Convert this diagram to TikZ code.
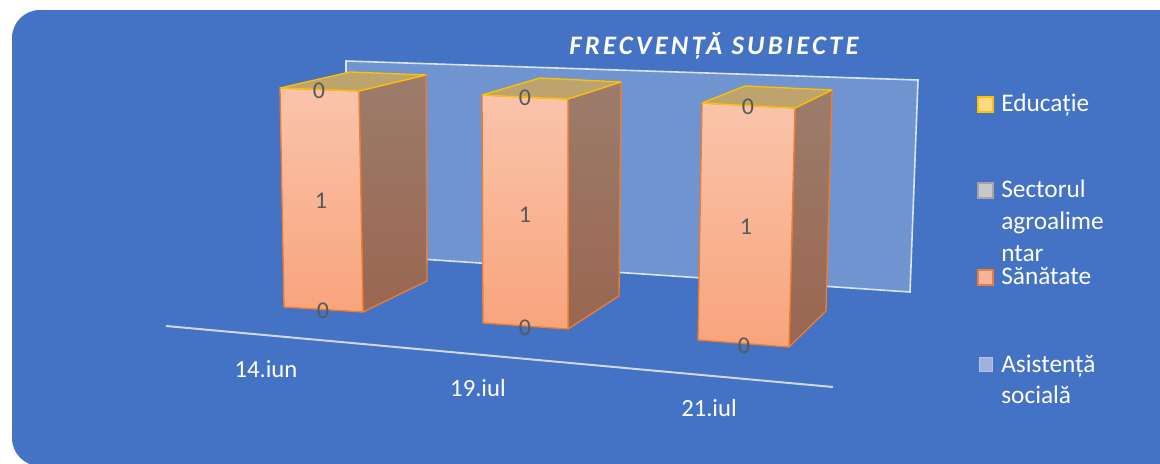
\documentclass[tikz,border=0pt]{standalone}
\usepackage{fontspec}
\setmainfont{Carlito}
\usetikzlibrary{calc}
\definecolor{bgblue}{HTML}{4472C4}
\definecolor{wallfill}{HTML}{7094D0}
\definecolor{wallline}{HTML}{DCE3F2}
\definecolor{barline}{HTML}{ED7D31}
\definecolor{fronttop}{HTML}{F9C4AB}
\definecolor{frontbot}{HTML}{F8A47C}
\definecolor{sidetop}{HTML}{9C7C6C}
\definecolor{sidebot}{HTML}{9A6650}
\definecolor{topfill}{HTML}{BDA46E}
\definecolor{gold}{HTML}{FFC000}
\definecolor{lblgray}{HTML}{595959}
\definecolor{floorline}{HTML}{D0D6E2}
\tikzset{
  lbl/.style={font=\fontsize{18}{20}\selectfont, text=lblgray, anchor=base, inner sep=0pt},
  axislbl/.style={font=\fontsize{18.5}{20}\selectfont, text=white, anchor=base, inner sep=0pt},
  leg/.style={font=\fontsize{19}{20}\selectfont, text=white, anchor=base west, inner sep=0pt},
  legbox/.style={line width=1.5pt},
  frontface/.style={top color=fronttop, bottom color=frontbot, draw=barline, line width=1pt, line join=round},
  sideface/.style={top color=sidetop, bottom color=sidebot, draw=barline, line width=1pt, line join=round},
  topface/.style={fill=topfill, draw=gold, line width=1pt, line join=round},
}
\begin{document}
\begin{tikzpicture}[x=0.75pt,y=-0.75pt]
\useasboundingbox (0,0) rectangle (1160,464);
\begin{scope}
\clip (0,0) rectangle (1160,464);
\fill[bgblue, rounded corners=21pt] (12,10) rectangle (1185,466);
\end{scope}
% back wall
\coordinate (w1) at (346,61);
\coordinate (w2) at (918,80);
\coordinate (w3) at (910,292);
\coordinate (w4) at (346,254);
\filldraw[fill=wallfill, draw=wallline, line width=1.2pt] (w1) -- (w2) -- (w3) -- (w4) -- cycle;
% floor line
\coordinate (f1) at (166,326);
\coordinate (f2) at (833,387);
\draw[floorline, line width=1.5pt] (f1) -- (f2);
% title
\node[font=\fontsize{20}{22}\selectfont\bfseries\itshape\addfontfeature{LetterSpace=12}, text=white, anchor=base, inner sep=0pt] (title) at (714,54) {FRECVENȚĂ SUBIECTE};
% bar 1
\coordinate (a1) at (280,88); \coordinate (b1) at (359,91);
\coordinate (c1) at (363,312); \coordinate (d1) at (284,307);
\coordinate (e1) at (350,72); \coordinate (g1) at (426,75);
\coordinate (h1) at (427,281);
\shade[sideface] (b1) -- (g1) -- (h1) -- (c1) -- cycle;
\shade[frontface] (a1) -- (b1) -- (c1) -- (d1) -- cycle;
\filldraw[topface] (a1) -- (e1) -- (g1) -- (b1) -- cycle;
% bar 2
\coordinate (a2) at (482,95); \coordinate (b2) at (568,99);
\coordinate (c2) at (568,329); \coordinate (d2) at (483,323);
\coordinate (e2) at (540,78); \coordinate (g2) at (621,82);
\coordinate (h2) at (619,296);
\shade[sideface] (b2) -- (g2) -- (h2) -- (c2) -- cycle;
\shade[frontface] (a2) -- (b2) -- (c2) -- (d2) -- cycle;
\filldraw[topface] (a2) -- (e2) -- (g2) -- (b2) -- cycle;
% bar 3
\coordinate (a3) at (702,103); \coordinate (b3) at (795,108);
\coordinate (c3) at (789,347); \coordinate (d3) at (698,340);
\coordinate (e3) at (745,86); \coordinate (g3) at (832,90);
\coordinate (h3) at (826,311);
\shade[sideface] (b3) -- (g3) -- (h3) -- (c3) -- cycle;
\shade[frontface] (a3) -- (b3) -- (c3) -- (d3) -- cycle;
\filldraw[topface] (a3) -- (e3) -- (g3) -- (b3) -- cycle;
% data labels
\node[lbl] (t1) at (319,98) {0};
\node[lbl] (m1) at (321,208) {1};
\node[lbl] (u1) at (323,318) {0};
\node[lbl] (t2) at (525,105) {0};
\node[lbl] (m2) at (525,222) {1};
\node[lbl] (u2) at (525,335) {0};
\node[lbl] (t3) at (748,114) {0};
\node[lbl] (m3) at (746,234) {1};
\node[lbl] (u3) at (744,353) {0};
% axis labels
\node[axislbl] (x1) at (266,377) {14.iun};
\node[axislbl] (x2) at (478,396) {19.iul};
\node[axislbl] (x3) at (709,416) {21.iul};
% legend
\filldraw[legbox, fill={rgb,255:red,255;green,217;blue,130}, draw=gold] (978,97) rectangle (993,112);
\node[leg] (l1) at (1001,111) {Educație};
\filldraw[legbox, fill={rgb,255:red,200;green,200;blue,200}, draw={rgb,255:red,165;green,165;blue,165}] (978,183) rectangle (993,198);
\node[leg] (l2a) at (1001,197) {Sectorul};
\node[leg] (l2b) at (1001,229) {agroalime};
\node[leg] (l2c) at (1001,261) {ntar};
\filldraw[legbox, fill={rgb,255:red,246;green,181;blue,154}, draw=barline] (978,270) rectangle (993,285);
\node[leg] (l3) at (1001,284) {Sănătate};
\filldraw[line width=0.6pt, fill={rgb,255:red,160;green,177;blue,224}, draw={rgb,255:red,180;green,194;blue,232}] (979,357) rectangle (992,371);
\node[leg] (l4a) at (1001,372) {Asistență};
\node[leg] (l4b) at (1001,403) {socială};
\end{tikzpicture}
\end{document}
